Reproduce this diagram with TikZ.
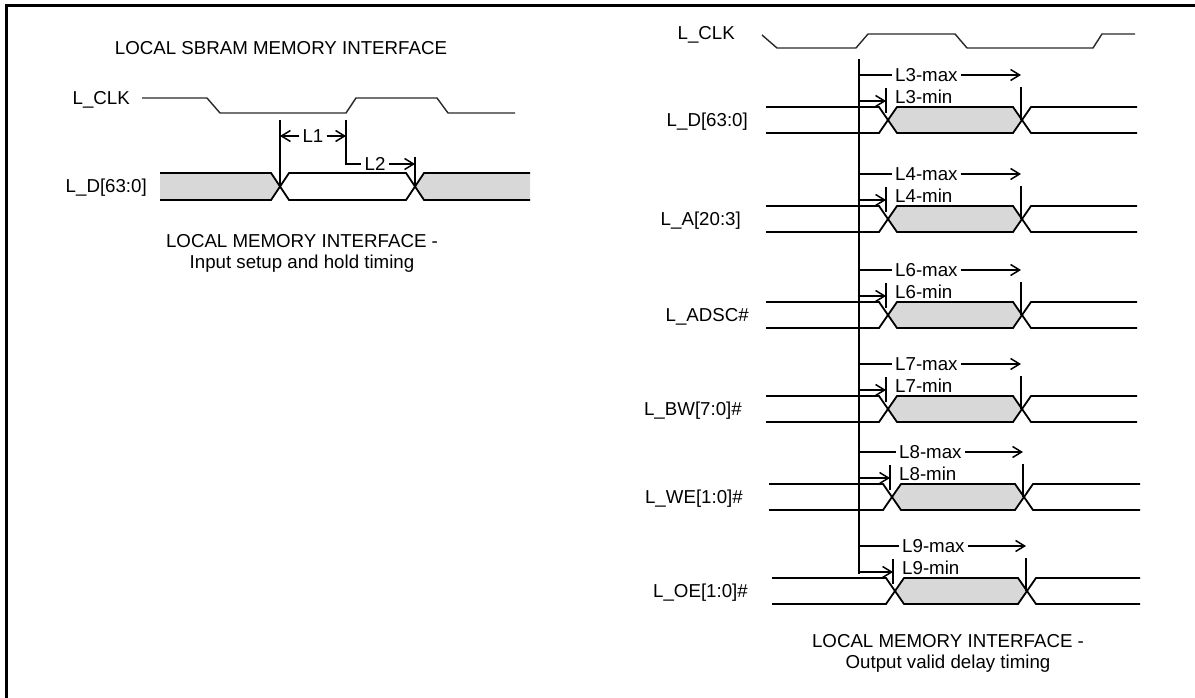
\documentclass[tikz,border=0pt]{standalone}
\usepackage{fontspec}
\setmainfont{Liberation Sans}
\usetikzlibrary{arrows.meta,positioning,calc}
\definecolor{ShadeGray}{RGB}{216,216,216}
\definecolor{ClkGray}{RGB}{40,40,40}
\tikzset{
  sig/.style={line width=1.8pt},
  clk/.style={ClkGray,line width=1.4pt},
  tim/.style={line width=1.5pt,-{Straight Barb[length=9pt,width=11pt]}},
  lbl/.style={inner sep=0pt},
  tlbl/.style={inner sep=3pt}
}

\begin{document}
\begin{tikzpicture}[x=1pt,y=-1pt,font=\fontsize{18.7}{21}\selectfont]
        \useasboundingbox (0,0) rectangle (1195,698);
        \draw[line width=3pt] (6,698) -- (6,6) -- (1195,6);
        \node[lbl] (title) at (281,48) {LOCAL SBRAM MEMORY INTERFACE};
        \node[lbl,anchor=base east] (clkL) at (130,105) {L\_CLK};
        \draw[clk] (142,98) -- (207,98) -- (220,113) -- (346,113) -- (356,98)
          -- (437,98) -- (448,113) -- (515,113);
        \node[lbl,anchor=base east] (dL) at (147,193) {L\_D[63:0]};
        \fill[ShadeGray] (160,173) -- (271,173) -- (280,186.5) -- (271,200) -- (160,200) -- cycle;
        \fill[ShadeGray] (530,173) -- (424,173) -- (415,186.5) -- (424,200) -- (530,200) -- cycle;
        \draw[sig] (160,173) -- (271,173) -- (289,200) -- (406,200) -- (424,173) -- (530,173);
        \draw[sig] (160,200) -- (271,200) -- (289,173) -- (406,173) -- (424,200) -- (530,200);
        \coordinate (s1) at (280,120);
        \coordinate (h1) at (346,120);
        \coordinate (s2) at (415,157);
        \draw[sig] (s1) -- (280,186.5);
        \draw[sig] (s2) -- (415,186.5);
        \node[tlbl] (l1) at (313,136) {L1};
        \draw[tim] (l1.west) -- (s1 |- l1.west);
        \draw[tim] (l1.east) -- (h1 |- l1.east);
        \node[tlbl] (l2) at (375,164) {L2};
        \draw[sig] (h1) |- (l2.west);
        \draw[tim] (l2.east) -- (s2 |- l2.east);
        \node[lbl,anchor=north,align=center] (capL) at (302,234.3)
          {LOCAL MEMORY INTERFACE -\\Input setup and hold timing};
        \node[lbl,anchor=base east] (clkR) at (735,40) {L\_CLK};
        \draw[clk] (762,35) -- (777,48) -- (856,48) -- (868,34) -- (955,34)
          -- (967,48) -- (1093,48) -- (1102,34) -- (1135,34);
        \coordinate (rtop) at (859,59);
        \coordinate (rbot) at (859,574);
        \draw[sig] (rtop) -- (rbot);
        \foreach \nm/\lab/\n/\xl/\yt/\xs/\ca/\cb/\xe in {
            d/{L\_D[63:0]}/3/748/107/766/888/1022/1137,
            a/{L\_A[20:3]}/4/741/206/766/888/1022/1137,
            adsc/{L\_ADSC\#}/6/749/302/766/888/1022/1137,
            bw/{L\_BW[7:0]\#}/7/742/396/766/888/1022/1137,
            we/{L\_WE[1:0]\#}/8/743/484/769/892/1024/1140,
            oe/{L\_OE[1:0]\#}/9/748/578/772/895/1027/1140}{
          \pgfmathsetmacro\yb{\yt+26}
          \pgfmathsetmacro\ym{\yt+13}
          \node[lbl,anchor=base east] (sig\nm) at (\xl,\ym+6.7) {\lab};
          \fill[ShadeGray] (\ca,\ym) -- (\ca+9,\yt) -- (\cb-9,\yt) -- (\cb,\ym)
            -- (\cb-9,\yb) -- (\ca+9,\yb) -- cycle;
          \draw[sig] (\xs,\yt) -- (\ca-9,\yt) -- (\ca+9,\yb) -- (\cb-9,\yb)
            -- (\cb+9,\yt) -- (\xe,\yt);
          \draw[sig] (\xs,\yb) -- (\ca-9,\yb) -- (\ca+9,\yt) -- (\cb-9,\yt)
            -- (\cb+9,\yb) -- (\xe,\yb);
          \coordinate (mx\nm) at (\cb-1,\yt-32);
          \coordinate (mn\nm) at (\ca-2,\yt-6);
          \node[tlbl,anchor=west] (max\nm) at (\ca+4,\yt-32) {L\n-max};
          \node[tlbl,anchor=west] (min\nm) at (\ca+4,\yt-10) {L\n-min};
          \draw[sig] ([yshift=-12pt]mx\nm) -- (\cb-1,\ym);
          \draw[sig] (\ca-2,\yt-19) -- (\ca-2,\yt+6);
          \draw[sig] (rtop |- mx\nm) -- (max\nm.west);
          \draw[tim] (max\nm.east) -- (mx\nm);
          \draw[tim] (rtop |- mn\nm) -- (mn\nm);
        }
        \node[lbl,anchor=north,align=center] (capR) at (948,634.3)
          {LOCAL MEMORY INTERFACE -\\Output valid delay timing};
      \end{tikzpicture}
\end{document}
